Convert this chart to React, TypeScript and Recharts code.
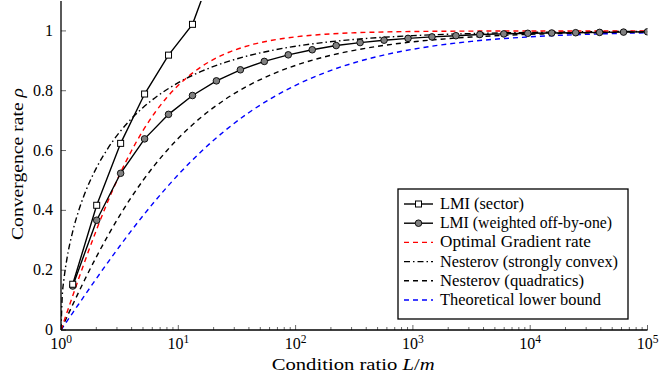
import React from 'react';
import { LineChart, Line, XAxis, YAxis } from 'recharts';

// condition ratios sampled for the analytic-looking rate curves
const curveK = [1, 1.023, 1.059, 1.122, 1.259, 1.413, 1.585, 1.995, 2.512, 3.162, 3.981, 5.012, 6.31, 7.943, 10, 15.85, 25.12, 39.81, 63.1, 100, 177.8, 316.2, 562.3, 1000, 3162, 10000, 31623, 100000];
const optimalGradient = [0, 0.0115, 0.0288, 0.0575, 0.1146, 0.171, 0.2263, 0.3323, 0.4305, 0.5195, 0.5985, 0.6673, 0.7264, 0.7764, 0.8182, 0.8813, 0.9234, 0.951, 0.9688, 0.9802, 0.9888, 0.9937, 0.9964, 0.998, 0.9994, 0.9998, 0.9999, 1.0];
const nesterovStrong = [0, 0.1071, 0.1684, 0.2366, 0.3297, 0.3982, 0.4535, 0.5404, 0.6075, 0.6616, 0.7063, 0.7439, 0.7758, 0.8032, 0.8269, 0.8653, 0.8947, 0.9173, 0.9349, 0.9487, 0.9618, 0.9715, 0.9787, 0.9841, 0.9911, 0.995, 0.9972, 0.9984];
const nesterovQuad = [0, 0.0086, 0.0215, 0.0428, 0.0849, 0.1261, 0.1663, 0.2433, 0.3154, 0.3824, 0.4441, 0.5006, 0.552, 0.5986, 0.6408, 0.713, 0.7711, 0.8178, 0.855, 0.8847, 0.9135, 0.9351, 0.9513, 0.9635, 0.9795, 0.9885, 0.9935, 0.9963];
const lowerBound = [0, 0.0058, 0.0144, 0.0288, 0.0575, 0.0861, 0.1146, 0.171, 0.2263, 0.2801, 0.3323, 0.3825, 0.4305, 0.4762, 0.5195, 0.5985, 0.6673, 0.7264, 0.7764, 0.8182, 0.8605, 0.8935, 0.9191, 0.9387, 0.9651, 0.9802, 0.9888, 0.9937];

// condition ratios where the LMI markers sit
const markerK = [1.259, 2.015, 3.224, 5.159, 8.254, 13.21, 21.13, 33.82, 54.12, 86.6, 138.6, 221.7, 354.8, 567.8, 908.5, 1454, 2326, 3722, 5957, 9532, 15253, 24406, 39054, 62494, 100000];
const lmiSector = [0.153, 0.417, 0.624, 0.789, 0.919, 1.022, 1.24];
const lmiWeighted = [0.147, 0.367, 0.524, 0.639, 0.721, 0.784, 0.833, 0.87, 0.898, 0.92, 0.937, 0.951, 0.961, 0.969, 0.975, 0.98, 0.984, 0.988, 0.99, 0.992, 0.993, 0.994, 0.995, 0.996, 0.997];

const majorXTicks = [1, 10, 100, 1000, 10000, 100000];
const minorXTicks = [2, 3, 4, 5, 6, 7, 8, 9, 20, 30, 40, 50, 60, 70, 80, 90, 200, 300, 400, 500, 600, 700, 800, 900, 2000, 3000, 4000, 5000, 6000, 7000, 8000, 9000, 20000, 30000, 40000, 50000, 60000, 70000, 80000, 90000];
const yTicks = [0, 0.2, 0.4, 0.6, 0.8, 1];
const yTickLabels = ['0', '0.2', '0.4', '0.6', '0.8', '1'];

const legendLabels = ['LMI (sector)', 'LMI (weighted off-by-one)', 'Optimal Gradient rate', 'Nesterov (strongly convex)', 'Nesterov (quadratics)', 'Theoretical lower bound'];
const legendWidths = [84, 172, 151, 178, 144, 161];

const FONT = 'Liberation Serif, DejaVu Serif, serif';

const toPts = (ks: number[], vs: number[]) => vs.map((v, i) => ({ k: ks[i], v }));

const XTick = (props: any) => {
  const { x, y, payload } = props;
  const v = payload.value;
  const isMajor = majorXTicks.includes(v);
  const exp = Math.round(Math.log10(v));
  return (
    <g>
      <line x1={x} x2={x} y1={y} y2={y - (isMajor ? 5 : 3)} stroke="#000" strokeWidth={0.6} />
      {isMajor && (
        <text x={x} y={y + 19} textAnchor="middle" style={{ fontFamily: FONT }} fontSize={16} fill="#000">
          <tspan>10</tspan>
          <tspan dy={-6.5} fontSize={11.5}>{exp}</tspan>
        </text>
      )}
    </g>
  );
};

const YTickLeft = (props: any) => {
  const { x, y, payload } = props;
  const idx = yTicks.indexOf(payload.value);
  return (
    <g>
      <line x1={x} x2={x + 5} y1={y} y2={y} stroke="#000" strokeWidth={0.6} />
      <text x={x - 8} y={y + 5} textAnchor="end" style={{ fontFamily: FONT }} fontSize={16} fill="#000">
        {yTickLabels[idx]}
      </text>
    </g>
  );
};

const YTickRight = (props: any) => {
  const { x, y } = props;
  return <line x1={x} x2={x - 5} y1={y} y2={y} stroke="#000" strokeWidth={0.6} />;
};

const SquareDot = (p: any) => (
  <rect key={`s${p.index}`} x={p.cx - 3} y={p.cy - 3} width={6} height={6} fill="#fff" stroke="#000" strokeWidth={1} />
);
const CircleDot = (p: any) => (
  <circle key={`c${p.index}`} cx={p.cx} cy={p.cy} r={3.3} fill="#808080" stroke="#000" strokeWidth={0.9} />
);

const DASH = '5 4';
const DASHDOT = '6 3 1.5 3';

export default function App() {
  const rowY = [204, 223.2, 242.4, 261.6, 280.8, 300];
  return (
    <div style={{ position: 'fixed', left: 0, top: 0, width: 664, height: 386, background: '#fff' }}>
      <LineChart width={664} height={386} margin={{ top: 1, right: 16.5, left: 0, bottom: 0 }}>
        <XAxis
          dataKey="k"
          type="number"
          scale="log"
          domain={[1, 100000]}
          allowDataOverflow
          ticks={[...majorXTicks, ...minorXTicks]}
          interval={0}
          height={56}
          tickSize={0}
          tickMargin={0}
          tickLine={false}
          tick={(p: any) => <XTick {...p} />}
          axisLine={{ stroke: '#000', strokeWidth: 1.3 }}
        />
        <XAxis
          xAxisId="top"
          orientation="top"
          dataKey="k"
          type="number"
          scale="log"
          domain={[1, 100000]}
          allowDataOverflow
          height={0}
          tick={false}
          tickLine={false}
          axisLine={{ stroke: '#000', strokeWidth: 1.3 }}
        />
        <YAxis
          type="number"
          domain={[0, 1.1]}
          allowDataOverflow
          ticks={yTicks}
          interval={0}
          width={61}
          tickSize={0}
          tickMargin={0}
          tickLine={false}
          tick={(p: any) => <YTickLeft {...p} />}
          axisLine={{ stroke: '#000', strokeWidth: 1.3 }}
        />
        <YAxis
          yAxisId="right"
          orientation="right"
          type="number"
          domain={[0, 1.1]}
          allowDataOverflow
          ticks={yTicks}
          interval={0}
          width={0}
          tickSize={0}
          tickMargin={0}
          tickLine={false}
          tick={(p: any) => <YTickRight {...p} />}
          axisLine={{ stroke: '#000', strokeWidth: 1.3 }}
        />
        <Line data={toPts(curveK, lowerBound)} dataKey="v" type="monotone" stroke="#0000ff" strokeWidth={1.4} strokeDasharray={DASH} dot={false} isAnimationActive={false} />
        <Line data={toPts(curveK, nesterovQuad)} dataKey="v" type="monotone" stroke="#000" strokeWidth={1.4} strokeDasharray={DASH} dot={false} isAnimationActive={false} />
        <Line data={toPts(curveK, nesterovStrong)} dataKey="v" type="monotone" stroke="#000" strokeWidth={1.4} strokeDasharray={DASHDOT} dot={false} isAnimationActive={false} />
        <Line data={toPts(curveK, optimalGradient)} dataKey="v" type="monotone" stroke="#ff0000" strokeWidth={1.4} strokeDasharray={DASH} dot={false} isAnimationActive={false} />
        <Line data={toPts(markerK, lmiWeighted)} dataKey="v" type="linear" stroke="#000" strokeWidth={1.4} dot={CircleDot} isAnimationActive={false} />
        <Line data={toPts(markerK, lmiSector)} dataKey="v" type="linear" stroke="#000" strokeWidth={1.4} dot={SquareDot} isAnimationActive={false} />
      </LineChart>
      <svg width={664} height={386} style={{ position: 'absolute', left: 0, top: 0, pointerEvents: 'none' }}>
        <text x={271.7} y={370} style={{ fontFamily: FONT }} fontSize={17} fill="#000" textLength={163} lengthAdjust="spacingAndGlyphs">
          Condition ratio <tspan fontStyle="italic">L</tspan>/<tspan fontStyle="italic">m</tspan>
        </text>
        <text transform="translate(23,240) rotate(-90)" x={0} y={0} style={{ fontFamily: FONT }} fontSize={17} fill="#000" textLength={152} lengthAdjust="spacingAndGlyphs">
          Convergence rate <tspan fontStyle="italic">ρ</tspan>
        </text>
        <rect x={398} y={189} width={230} height={130} fill="#fff" stroke="#000" strokeWidth={1.3} />
        <line x1={404} x2={433} y1={rowY[0]} y2={rowY[0]} stroke="#000" strokeWidth={1.4} />
        <rect x={415.5} y={rowY[0] - 3} width={6} height={6} fill="#fff" stroke="#000" strokeWidth={1} />
        <line x1={404} x2={433} y1={rowY[1]} y2={rowY[1]} stroke="#000" strokeWidth={1.4} />
        <circle cx={418.5} cy={rowY[1]} r={3.3} fill="#808080" stroke="#000" strokeWidth={0.9} />
        <line x1={404} x2={433} y1={rowY[2]} y2={rowY[2]} stroke="#ff0000" strokeWidth={1.4} strokeDasharray={DASH} />
        <line x1={404} x2={433} y1={rowY[3]} y2={rowY[3]} stroke="#000" strokeWidth={1.4} strokeDasharray={DASHDOT} />
        <line x1={404} x2={433} y1={rowY[4]} y2={rowY[4]} stroke="#000" strokeWidth={1.4} strokeDasharray={DASH} />
        <line x1={404} x2={433} y1={rowY[5]} y2={rowY[5]} stroke="#0000ff" strokeWidth={1.4} strokeDasharray={DASH} />
        {legendLabels.map((t, i) => (
          <text key={t} x={440} y={rowY[i] + 5} style={{ fontFamily: FONT }} fontSize={16} fill="#000" textLength={legendWidths[i]} lengthAdjust="spacingAndGlyphs">
            {t}
          </text>
        ))}
      </svg>
    </div>
  );
}
